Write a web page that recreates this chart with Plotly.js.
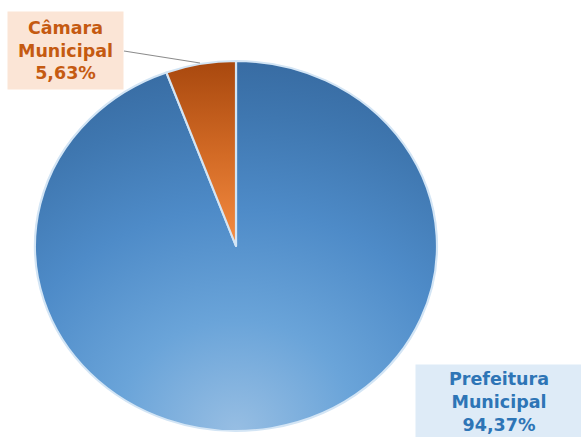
<!DOCTYPE html>
<html>
<head>
<meta charset="utf-8">
<script src="https://cdn.plot.ly/plotly-3.0.1.min.js"></script>
<style>html,body{margin:0;padding:0;background:#fff;}#chart{width:581px;height:437px;}</style>
</head>
<body>
<div id="chart"></div>
<script>
const labels = ["Prefeitura Municipal", "Câmara Municipal"];
const values = [94.37, 5.63];
const valueTexts = ["94,37%", "5,63%"];
const colors = ["#4f8ac7", "#cf6a26"];

const trace = {
  type: "pie",
  labels: labels,
  values: values,
  sort: false,
  direction: "clockwise",
  rotation: 0,
  textinfo: "none",
  hoverinfo: "none",
  showlegend: false,
  marker: { colors: colors, line: { color: "#d3e5f5", width: 2 } },
  domain: { x: [(236 - 185) / 581, (236 + 185) / 581], y: [(191 - 185) / 437, (191 + 185) / 437] }
};

const labelFont = "DejaVu Sans, Liberation Sans, Arial, sans-serif";

const layout = {
  width: 581,
  height: 437,
  margin: { l: 0, r: 0, t: 0, b: 0 },
  paper_bgcolor: "#ffffff",
  showlegend: false,
  font: { family: labelFont },
  shapes: [
    { type: "line", xref: "paper", yref: "paper", x0: 124 / 581, y0: 1 - 51 / 437, x1: 200 / 581, y1: 1 - 63 / 437,
      line: { color: "#8c8c8c", width: 1.2 } }
  ],
  annotations: [
    { xref: "paper", yref: "paper", x: 65.5 / 581, y: 1 - 50.5 / 437, xanchor: "center", yanchor: "middle",
      text: "<b>" + "Câmara<br>Municipal<br>" + valueTexts[1] + "</b>", showarrow: false,
      font: { size: 17.5, color: "#c55a11", family: labelFont },
      bgcolor: "#fbe5d6", width: 113, height: 75, align: "center" },
    { xref: "paper", yref: "paper", x: 499 / 581, y: 1 - 402 / 437, xanchor: "center", yanchor: "middle",
      text: "<b>" + "Prefeitura<br>Municipal<br>" + valueTexts[0] + "</b>", showarrow: false,
      font: { size: 17.5, color: "#2e75b6", family: labelFont },
      bgcolor: "#deebf7", width: 164, height: 72, align: "center" }
  ]
};

Plotly.newPlot("chart", [trace], layout, { staticPlot: true, displayModeBar: false }).then(function () {
  const svg = document.querySelector(".main-svg");
  const ns = "http://www.w3.org/2000/svg";
  let defs = svg.querySelector("defs");
  if (!defs) { defs = document.createElementNS(ns, "defs"); svg.insertBefore(defs, svg.firstChild); }
  function addStops(g, stops) {
    stops.forEach(function (s) {
      const st = document.createElementNS(ns, "stop");
      st.setAttribute("offset", s[0]);
      st.setAttribute("stop-color", s[1]);
      g.appendChild(st);
    });
    defs.appendChild(g);
  }
  const rb = document.createElementNS(ns, "radialGradient");
  rb.setAttribute("id", "gBlue");
  rb.setAttribute("cx", "0.5"); rb.setAttribute("cy", "1.0"); rb.setAttribute("r", "1.0");
  rb.setAttribute("fx", "0.5"); rb.setAttribute("fy", "1.0");
  addStops(rb, [["0", "#97bee3"], ["0.3", "#6aa4d9"], ["0.6", "#4e8bc8"], ["0.85", "#3f77b0"], ["1", "#386ca3"]]);
  const lo = document.createElementNS(ns, "linearGradient");
  lo.setAttribute("id", "gOrange");
  lo.setAttribute("x1", "0"); lo.setAttribute("y1", "0"); lo.setAttribute("x2", "0"); lo.setAttribute("y2", "1");
  addStops(lo, [["0", "#a8480e"], ["0.5", "#d26a25"], ["1", "#f58c42"]]);
  const slices = document.querySelectorAll(".pielayer .slice path.surface");
  if (slices[0]) slices[0].style.fill = "url(#gBlue)";
  if (slices[1]) slices[1].style.fill = "url(#gOrange)";
  const pl = document.querySelector(".pielayer");
  if (pl) {
    const cx = 236;
    const s = 201 / 185;
    pl.setAttribute("transform", "translate(" + cx + ",0) scale(" + s + ",1) translate(" + (-cx) + ",0)");
  }
});
</script>
</body>
</html>
